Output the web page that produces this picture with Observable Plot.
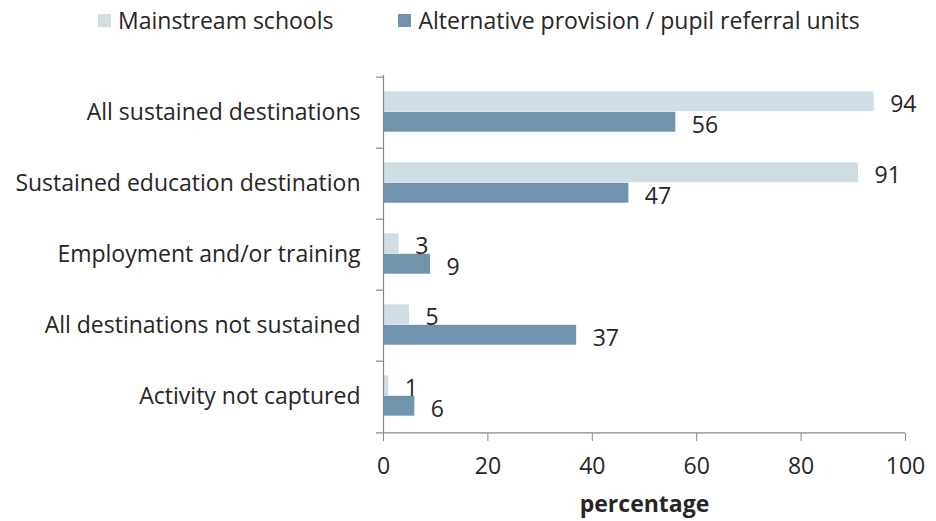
<!DOCTYPE html>
<html><head><meta charset="utf-8">
<script src="https://cdn.jsdelivr.net/npm/d3@7"></script>
<script src="https://cdn.jsdelivr.net/npm/@observablehq/plot@0.6"></script>
<style>
body{margin:0;background:#fff;font-family:"Open Sans",sans-serif;color:#262626}
#legend{height:40px;display:flex;align-items:center;padding-left:98px;gap:65px;font-size:23px;box-sizing:border-box}
.item{display:flex;align-items:center;gap:7px;white-space:nowrap}
.sw{width:13px;height:13px;display:inline-block}
</style></head><body>
<div id="legend"></div><div id="chart"></div>
<script>
const categories = ["All sustained destinations","Sustained education destination","Employment and/or training","All destinations not sustained","Activity not captured"];
const seriesNames = ["Mainstream schools","Alternative provision / pupil referral units"];
const mainstream = [94,91,3,5,1];
const alternative = [56,47,9,37,6];
const xTicks = [0,20,40,60,80,100];
const axisTitle = "percentage";
const colors = ["#d0dde5","#7094ae"];

const legend = document.getElementById("legend");
seriesNames.forEach((s,i)=>{
  const it = document.createElement("div"); it.className="item";
  const sw = document.createElement("span"); sw.className="sw"; sw.style.background=colors[i];
  const t = document.createElement("span"); t.textContent=s;
  it.append(sw,t); legend.append(it);
});

const light = categories.map((c,i)=>({category:c, series:seriesNames[0], value:mainstream[i]}));
const dark = categories.map((c,i)=>({category:c, series:seriesNames[1], value:alternative[i]}));
const W=936, H=481, mt=35, mb=88, ml=383, mr=31;
const band = (H-mt-mb)/categories.length;
const barH = 20.5;
const inset = (band-barH)/2;
const axisGray = "#878787";
const textCol = "#262626";

const chart = Plot.plot({
  width:W, height:H, marginTop:mt, marginBottom:mb, marginLeft:ml, marginRight:mr,
  style:{fontFamily:"'Open Sans', sans-serif", fontSize:"23px", color:textCol, background:"#fff"},
  x:{domain:[0,100], label:null},
  y:{domain:categories, padding:0, label:null},
  color:{domain:seriesNames, range:colors},
  marks:[
    Plot.barX(light,{y:"category", x:"value", fill:"series", insetTop:inset, insetBottom:inset, dy:-barH/2-1}),
    Plot.barX(dark,{y:"category", x:"value", fill:"series", insetTop:inset, insetBottom:inset, dy:barH/2-1}),
    Plot.text(light,{y:"category", x:"value", text:d=>String(d.value), textAnchor:"start", dx:16, dy:-barH/2+2, fill:textCol}),
    Plot.text(dark,{y:"category", x:"value", text:d=>String(d.value), textAnchor:"start", dx:16, dy:barH/2+2, fill:textCol}),
    Plot.ruleX([0],{stroke:axisGray, strokeWidth:1.2}),
    Plot.ruleY(categories,{y:d=>d, x1:-1.35, x2:0, dy:-band/2, stroke:axisGray, strokeWidth:1.2}),
    Plot.ruleY([categories[categories.length-1]],{y:d=>d, x1:-1.35, x2:100, dy:band/2, stroke:axisGray, strokeWidth:1.2}),
    Plot.axisY({tickSize:0, tickPadding:23, label:null}),
    Plot.axisX(xTicks,{tickSize:8, tickPadding:16, stroke:axisGray, label:null}),
    Plot.text([axisTitle],{frameAnchor:"bottom", dy:78, fontWeight:"bold", fill:textCol})
  ]
});
document.getElementById("chart").append(chart);
</script>
</body></html>
